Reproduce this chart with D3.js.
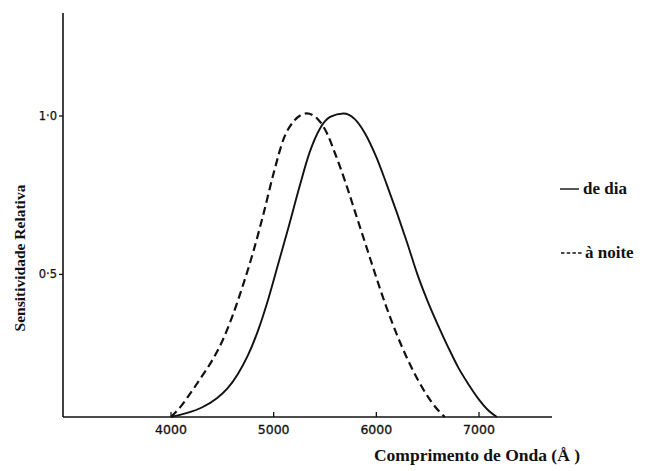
<!DOCTYPE html>
<html>
<head>
<meta charset="utf-8">
<script src="https://cdn.jsdelivr.net/npm/d3@7"></script>
<style>
  html, body { margin: 0; padding: 0; background: #fff; }
  svg { display: block; }
</style>
</head>
<body>
<svg id="chart" width="646" height="471"></svg>
<script>
// ---- data ----
const xTicks = [4000, 5000, 6000, 7000];
const xTickLabels = ["4000", "5000", "6000", "7000"];
const yTicks = [0.5, 1.0];
const yTickLabels = ["0·5", "1·0"];

// "de dia" (photopic) curve: wavelength (Å), relative sensitivity
const dayWave = [4000, 4150, 4300, 4450, 4550, 4650, 4750, 4850, 4950, 5050, 5150, 5250, 5350, 5450, 5550, 5680, 5790, 5890, 6000, 6100, 6200, 6300, 6400, 6500, 6600, 6700, 6800, 6900, 7000, 7100, 7175];
const daySens = [0.05, 0.062, 0.08, 0.11, 0.14, 0.185, 0.245, 0.325, 0.425, 0.54, 0.655, 0.775, 0.885, 0.96, 0.997, 1.008, 0.99, 0.945, 0.87, 0.785, 0.695, 0.60, 0.50, 0.415, 0.34, 0.27, 0.205, 0.152, 0.105, 0.068, 0.05];

// "à noite" (scotopic) curve
const nightWave = [4000, 4100, 4200, 4300, 4400, 4500, 4600, 4700, 4800, 4900, 5000, 5100, 5200, 5322, 5430, 5520, 5600, 5700, 5800, 5900, 6000, 6100, 6200, 6300, 6400, 6500, 6600, 6668];
const nightSens = [0.05, 0.085, 0.13, 0.178, 0.228, 0.29, 0.37, 0.465, 0.57, 0.69, 0.82, 0.93, 0.985, 1.008, 0.99, 0.945, 0.88, 0.79, 0.69, 0.59, 0.49, 0.395, 0.31, 0.235, 0.17, 0.115, 0.072, 0.05];

const legendLabels = ["de dia", "à noite"];
const xTitle = "Comprimento de Onda (Å )";
const yTitle = "Sensitividade Relativa";

// ---- drawing ----
const svg = d3.select("#chart");
const ink = "#111";

const x = d3.scaleLinear().domain([2948, 7711]).range([63, 552]);
const y = d3.scaleLinear().domain([0.05, 1.325]).range([417, 13]);

// axes lines
svg.append("line").attr("x1", x(2948)).attr("x2", x(7711)).attr("y1", y(0.05)).attr("y2", y(0.05))
  .attr("stroke", ink).attr("stroke-width", 1.6);
svg.append("line").attr("x1", x(2948)).attr("x2", x(2948)).attr("y1", y(0.05)).attr("y2", y(1.325))
  .attr("stroke", ink).attr("stroke-width", 1.6);

// x ticks (upward) and labels
const xg = svg.append("g");
xTicks.forEach((t, i) => {
  xg.append("line").attr("x1", x(t)).attr("x2", x(t)).attr("y1", y(0.05)).attr("y2", y(0.05) - 5)
    .attr("stroke", ink).attr("stroke-width", 1.3);
  xg.append("text").attr("x", x(t)).attr("y", 434).attr("text-anchor", "middle")
    .attr("font-family", "DejaVu Sans").attr("font-size", 12.5).attr("fill", ink)
    .attr("stroke", ink).attr("stroke-width", 0.3)
    .text(xTickLabels[i]);
});

// y ticks (leftward) and labels
const yg = svg.append("g");
yTicks.forEach((t, i) => {
  yg.append("line").attr("x1", x(2948) - 4).attr("x2", x(2948)).attr("y1", y(t)).attr("y2", y(t))
    .attr("stroke", ink).attr("stroke-width", 1.3);
  yg.append("text").attr("x", x(2948) - 6).attr("y", y(t)).attr("dy", "0.35em").attr("text-anchor", "end")
    .attr("font-family", "DejaVu Sans").attr("font-size", 11.5).attr("fill", ink)
    .attr("stroke", ink).attr("stroke-width", 0.25)
    .text(yTickLabels[i]);
});

// titles
svg.append("text").attr("x", 477).attr("y", 461).attr("text-anchor", "middle")
  .attr("font-family", "Liberation Serif").attr("font-weight", "bold").attr("font-size", 17.5).attr("fill", ink)
  .text(xTitle);
svg.append("text").attr("transform", "translate(25,258) rotate(-90)").attr("text-anchor", "middle")
  .attr("font-family", "Liberation Serif").attr("font-weight", "bold").attr("font-size", 15.5).attr("fill", ink)
  .text(yTitle);

// curves
const line = d3.line().x(d => x(d[0])).y(d => y(d[1])).curve(d3.curveMonotoneX);
const dayData = dayWave.map((w, i) => [w, daySens[i]]);
const nightData = nightWave.map((w, i) => [w, nightSens[i]]);

svg.append("path").datum(dayData).attr("d", line)
  .attr("fill", "none").attr("stroke", ink).attr("stroke-width", 1.9);
svg.append("path").datum(nightData).attr("d", line)
  .attr("fill", "none").attr("stroke", ink).attr("stroke-width", 2.2).attr("stroke-dasharray", "8,4.5");

// legend
const lg = svg.append("g");
const legendY = [189, 253];
lg.append("line").attr("x1", 560).attr("x2", 579).attr("y1", legendY[0]).attr("y2", legendY[0])
  .attr("stroke", ink).attr("stroke-width", 1.4);
lg.append("line").attr("x1", 561).attr("x2", 582).attr("y1", legendY[1]).attr("y2", legendY[1])
  .attr("stroke", ink).attr("stroke-width", 1.6).attr("stroke-dasharray", "3.5,2.2");
legendLabels.forEach((l, i) => {
  lg.append("text").attr("x", i === 0 ? 583 : 585).attr("y", legendY[i]).attr("dy", "0.3em")
    .attr("font-family", "Liberation Serif").attr("font-weight", "bold").attr("font-size", 17).attr("fill", ink)
    .text(l);
});
</script>
</body>
</html>
